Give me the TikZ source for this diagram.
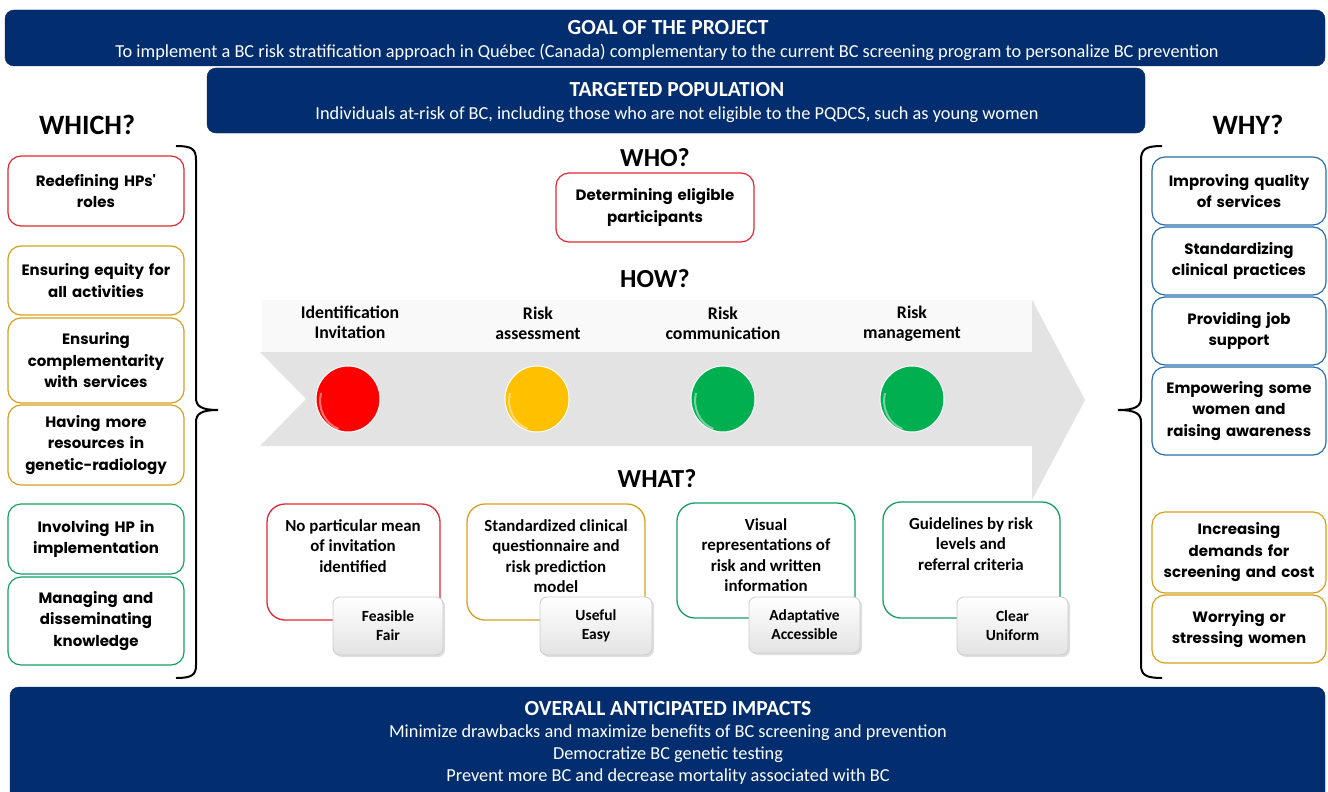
\documentclass[tikz,border=0pt]{standalone}
\usepackage{fontspec}
\setmainfont{Carlito}
\newfontfamily\gothic{Poppins}
\usetikzlibrary{shadows,shapes.geometric}
\definecolor{navy}{RGB}{2,46,112}
\definecolor{cred}{RGB}{222,40,50}
\definecolor{camber}{RGB}{214,160,30}
\definecolor{cgreen}{RGB}{20,160,100}
\definecolor{cblue}{RGB}{40,110,170}
\definecolor{lred}{RGB}{255,0,0}
\definecolor{lamber}{RGB}{255,192,0}
\definecolor{lgreen}{RGB}{0,176,80}
\tikzset{
  banner/.style={fill=navy, draw=navy!80!black, rounded corners=9pt},
  btitle/.style={text=white, font=\bfseries\fontsize{21.5}{24}\selectfont},
  btext/.style={text=white, font=\fontsize{18.3}{21}\selectfont},
  sidebox/.style={rounded corners=13pt, line width=1.2pt, fill=white, align=center,
     inner sep=2pt, font=\gothic\bfseries\fontsize{15}{21.5}\selectfont},
  whatbox/.style={rounded corners=18pt, line width=1.3pt, fill=white},
  whattext/.style={align=center, font=\bfseries\fontsize{16.9}{20.5}\selectfont},
  graybox/.style={rounded corners=7pt, draw=gray!40, line width=0.8pt,
     top color=white, bottom color=gray!22, align=center,
     drop shadow={shadow xshift=2pt, shadow yshift=-2pt, opacity=0.25},
     font=\bfseries\fontsize{15.5}{19}\selectfont},
  heading/.style={font=\bfseries\fontsize{26}{28}\selectfont},
  steplabel/.style={align=center, font=\bfseries\fontsize{17.8}{20}\selectfont},
  light/.style={ellipse, minimum width=64pt, minimum height=66pt, draw=white, line width=1pt},
  bracepath/.style={line width=2pt, black}
}
\newcommand\mkbox[7]{\node[sidebox, draw=#6, minimum width=#4pt, minimum height=#5pt, text width=#4pt-6pt] (#1) at (#2,#3) {#7};}
\begin{document}
\begin{tikzpicture}[x=1pt,y=-1pt]
\clip (0,0) rectangle (1328,792);
\fill[white] (0,0) rectangle (1328,792);
% banners
\path[banner] (5,10) rectangle (1325,66);
\node[btitle] (goalT) at (668,28) {GOAL OF THE PROJECT};
\node[btext] (goalS) at (667,52) {To implement a BC risk stratification approach in Québec (Canada) complementary to the current BC screening program to personalize BC prevention};
\path[banner] (207,68) rectangle (1145,133);
\node[btitle] (popT) at (677,90) {TARGETED POPULATION};
\node[btext] (popS) at (677,115) {Individuals at-risk of BC, including those who are not eligible to the PQDCS, such as young women};
\path[banner] (10,687) rectangle (1325,810);
\node[btitle] (impT) at (668,709) {OVERALL ANTICIPATED IMPACTS};
\node[btext] (imp1) at (668,733) {Minimize drawbacks and maximize benefits of BC screening and prevention};
\node[btext] (imp2) at (668,755) {Democratize BC genetic testing};
\node[btext] (imp3) at (668,777) {Prevent more BC and decrease mortality associated with BC};
% headings
\node[heading, font=\bfseries\fontsize{28}{30}\selectfont] (which) at (87,125) {WHICH?};
\node[heading, font=\bfseries\fontsize{28}{30}\selectfont] (why) at (1248,125) {WHY?};
\node[heading] (who) at (655,158) {WHO?};
\node[heading] (how) at (655,279) {HOW?};
\node[heading] (what) at (657,479) {WHAT?};
% left boxes
\mkbox{l1}{96}{191}{176}{70}{cred}{Redefining HPs'\\roles}
\mkbox{l2}{96}{280.5}{176}{69}{camber}{Ensuring equity for\\all activities}
\mkbox{l3}{96}{360.5}{176}{85}{camber}{Ensuring\\complementarity\\with services}
\mkbox{l4}{96}{445}{176}{80}{camber}{Having more\\resources in\\genetic-radiology}
\mkbox{l5}{96}{539}{176}{70}{cgreen}{Involving HP in\\implementation}
\mkbox{l6}{96}{621}{176}{88}{cgreen}{Managing and\\disseminating\\knowledge}
% right boxes
\mkbox{r1}{1239}{191}{174}{68}{cblue}{Improving quality\\of services}
\mkbox{r2}{1239}{261}{174}{68}{cblue}{Standardizing\\clinical practices}
\mkbox{r3}{1239}{331}{174}{68}{cblue}{Providing job\\support}
\mkbox{r4}{1239}{411}{174}{88}{cblue}{Empowering some\\women and\\raising awareness}
\mkbox{r5}{1239}{552.5}{174}{81}{camber}{Increasing\\demands for\\screening and cost}
\mkbox{r6}{1239}{629}{174}{68}{camber}{Worrying or\\stressing women}
% who box
\mkbox{whob}{655}{207.5}{198}{69}{cred}{Determining eligible\\participants}
% braces
\draw[bracepath] (176,146) .. controls (192,146) and (196,149) .. (196,160) -- (196,398)
   .. controls (196,406) and (201,410) .. (218,410) .. controls (201,410) and (196,414) .. (196,422)
   -- (196,665) .. controls (196,675) and (192,678) .. (176,678);
\draw[bracepath] (1162,146) .. controls (1146,146) and (1141,149) .. (1141,160) -- (1141,398)
   .. controls (1141,406) and (1136,410) .. (1118,410) .. controls (1136,410) and (1141,414) .. (1141,422)
   -- (1141,665) .. controls (1141,675) and (1146,678) .. (1162,678);
% arrow
\fill[gray!5] (262,300) -- (1035,300) -- (1035,352) -- (262,352) -- cycle;
\fill[gray!22] (260,352) -- (1032,352) -- (1032,300) -- (1085,400) -- (1032,500) -- (1032,446)
   -- (260,446) -- (306,399) -- cycle;
% step labels
\node[steplabel] (s1) at (350,322) {Identification\\Invitation};
\node[steplabel] (s2) at (538,323) {Risk\\assessment};
\node[steplabel] (s3) at (723,323) {Risk\\communication};
\node[steplabel] (s4) at (912,324) {Risk\\management};
% lights
\node[light, fill=lred] (c1) at (348,399) {};
\node[light, fill=lamber] (c2) at (537,399) {};
\node[light, fill=lgreen] (c3) at (723,399) {};
\node[light, fill=lgreen] (c4) at (912,399) {};
\foreach \c in {c1,c2,c3,c4}{
  \draw[white, opacity=0.45, line width=2pt] ([shift={(-27pt,6pt)}]\c.center) arc[start angle=165, end angle=250, x radius=28pt, y radius=30pt];
}
% what boxes
\draw[whatbox, draw=cred] (267,504) rectangle (440,620);
\draw[whatbox, draw=camber] (467,504) rectangle (645,620);
\draw[whatbox, draw=cgreen] (677,503) rectangle (855,618);
\draw[whatbox, draw=cgreen] (883,502) rectangle (1060,618);
\node[whattext] (w1) at (353,546) {No particular mean\\of invitation\\identified};
\node[whattext] (w2) at (556,556) {Standardized clinical\\questionnaire and\\risk prediction\\model};
\node[whattext] (w3) at (766,555) {Visual\\representations of\\risk and written\\information};
\node[whattext] (w4) at (971,544) {Guidelines by risk\\levels and\\referral criteria};
\node[graybox, minimum width=110pt, minimum height=58pt] (g1) at (388,626) {Feasible\\Fair};
\node[graybox, minimum width=112pt, minimum height=58pt] (g2) at (596,626) {Useful\\Easy};
\node[graybox, minimum width=111pt, minimum height=56pt] (g3) at (804.5,625) {Adaptative\\Accessible};
\node[graybox, minimum width=111pt, minimum height=58pt] (g4) at (1012.5,626) {Clear\\Uniform};
\end{tikzpicture}
\end{document}
